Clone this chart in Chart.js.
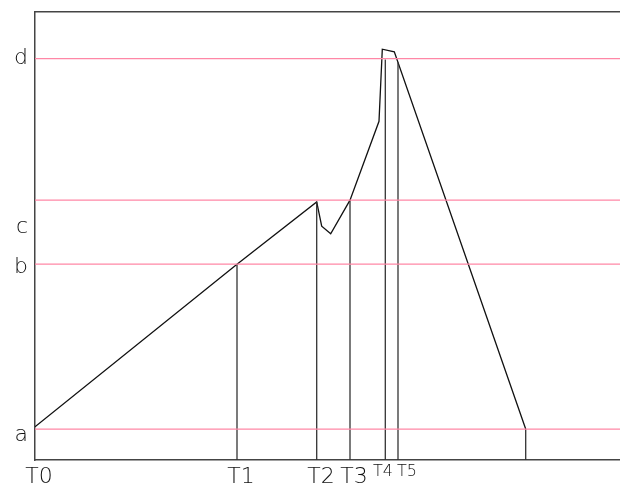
<!DOCTYPE html>
<html>
<head>
<meta charset="utf-8">
<script src="https://cdn.jsdelivr.net/npm/chart.js@4"></script>
<style>
html,body{margin:0;padding:0;background:#fff;}
canvas{display:block;}
</style>
</head>
<body>
<canvas id="c" width="620" height="484"></canvas>
<script>
// Time marks on the horizontal axis
const timeLabels = ['T0', 'T1', 'T2', 'T3', 'T4', 'T5'];
const timeValues = [0, 20.2, 28.2, 31.5, 35.0, 36.3];

// Level labels on the vertical axis
const levelLabels = ['a', 'b', 'c', 'd'];
const levelLabelValues = [5.6, 43.1, 51.9, 89.6];

// Horizontal reference levels (pink lines)
const levelLineValues = [6.9, 43.7, 58.0, 89.6];

// Main profile curve
const profileX = [0, 20.2, 28.17, 28.67, 29.57, 31.5, 34.4, 34.73, 35.93, 49.07];
const profileY = [7.4, 43.7, 57.6, 52.2, 50.5, 58.0, 75.6, 91.7, 91.1, 6.9];

// Vertical drop lines (x position and top value)
const dropX = [20.2, 28.17, 31.5, 35.03, 36.3, 49.07];
const dropTop = [43.7, 57.6, 58.0, 89.4, 88.8, 6.9];

const X_MIN = 0, X_MAX = 58.5, Y_MIN = 0, Y_MAX = 100;

const datasets = [];
levelLineValues.forEach(v => {
  datasets.push({
    data: [{x: X_MIN, y: v}, {x: X_MAX, y: v}],
    borderColor: '#ff87a6', borderWidth: 1.2, pointRadius: 0
  });
});
dropX.forEach((x, i) => {
  datasets.push({
    data: [{x: x, y: Y_MIN}, {x: x, y: dropTop[i]}],
    borderColor: '#333', borderWidth: 1.3, pointRadius: 0
  });
});
datasets.push({
  data: profileX.map((x, i) => ({x: x, y: profileY[i]})),
  borderColor: '#111', borderWidth: 1.3, pointRadius: 0, tension: 0
});

const fontFam = "'DejaVu Sans', sans-serif";

// Draws the time labels under the x axis at their tick positions
const timeLabelPlugin = {
  id: 'timeLabels',
  afterDraw(chart) {
    const ctx = chart.ctx;
    const xs = chart.scales.x;
    const base = xs.top;
    ctx.save();
    ctx.fillStyle = '#111';
    ctx.textBaseline = 'alphabetic';
    timeValues.forEach((v, i) => {
      const px = xs.getPixelForValue(v);
      const small = i >= 4;
      ctx.font = '200 ' + (small ? 16 : 22) + 'px ' + fontFam;
      if (!small) {
        ctx.textAlign = 'center';
        ctx.fillText(timeLabels[i], px + 4, base + 23);
      } else if (i === 4) {
        ctx.textAlign = 'right';
        ctx.fillText(timeLabels[i], px + 8, base + 16);
      } else {
        ctx.textAlign = 'left';
        ctx.fillText(timeLabels[i], px - 1, base + 16);
      }
    });
    ctx.restore();
  }
};

new Chart(document.getElementById('c'), {
  type: 'line',
  data: { datasets },
  plugins: [timeLabelPlugin],
  options: {
    responsive: false,
    animation: false,
    layout: { padding: { top: 12, right: 0, left: 0, bottom: 0 } },
    plugins: { legend: { display: false }, tooltip: { enabled: false } },
    scales: {
      x: {
        type: 'linear', position: 'bottom', min: X_MIN, max: X_MAX,
        grid: { display: true, drawOnChartArea: false, drawTicks: false },
        border: { display: true, color: '#444', width: 1.5 },
        afterBuildTicks: s => { s.ticks = timeValues.map(v => ({ value: v })); },
        afterFit: s => { s.height = 24; s.paddingLeft = 0; s.paddingRight = 0; },
        ticks: { display: false }
      },
      xTop: {
        type: 'linear', position: 'top', min: X_MIN, max: X_MAX,
        grid: { display: true, drawOnChartArea: false, drawTicks: false },
        border: { display: true, color: '#444', width: 1.5 },
        ticks: { display: false },
        afterFit: s => { s.height = 0; }
      },
      y: {
        type: 'linear', position: 'left', min: Y_MIN, max: Y_MAX,
        grid: { display: true, drawOnChartArea: false, drawTicks: false },
        border: { display: true, color: '#444', width: 1.5 },
        afterBuildTicks: s => { s.ticks = levelLabelValues.map(v => ({ value: v })); },
        afterFit: s => { s.width = 35; s.paddingTop = 0; s.paddingBottom = 0; },
        ticks: {
          autoSkip: false, padding: 7, color: '#111',
          font: { family: fontFam, size: 22, weight: 200 },
          callback: (v, i) => levelLabels[i]
        }
      }
    }
  }
});
</script>
</body>
</html>
